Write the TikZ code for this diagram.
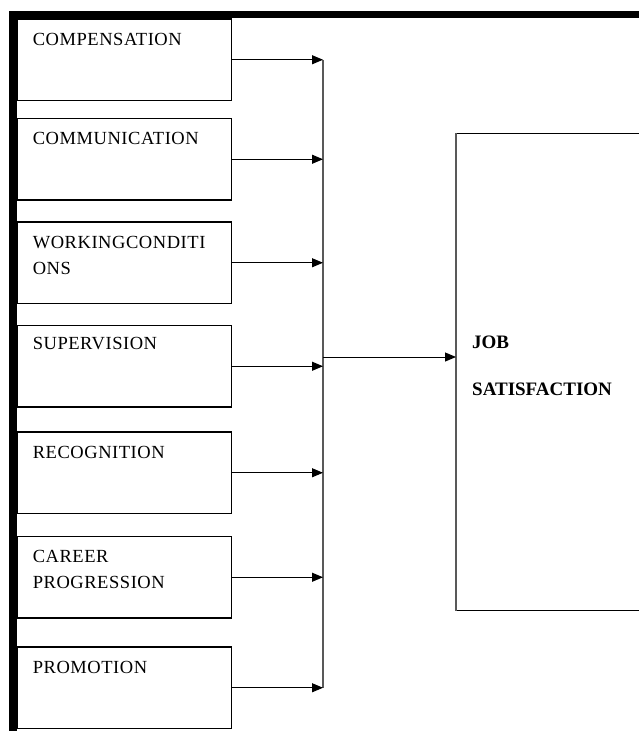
\documentclass[tikz,border=0pt]{standalone}
\usepackage{fontspec}
\setmainfont{Liberation Serif}
\usepackage{tikz}
\usetikzlibrary{arrows.meta}
\usetikzlibrary{positioning}
\tikzstyle{factor} = [rectangle, draw, line width=1.3pt,
    minimum width=214pt, minimum height=81.5pt, inner sep=0pt, outer sep=0pt]
\tikzstyle{ftext} = [inner sep=0pt, align=left,
    font=\fontsize{18.5}{26}\selectfont\addfontfeatures{LetterSpace=3}]
\tikzstyle{result} = [rectangle, draw, line width=1.4pt, anchor=north west,
    minimum width=220pt, minimum height=477pt, inner sep=0pt]
\tikzstyle{rtext} = [inner sep=0pt, align=left,
    font=\fontsize{19}{23}\selectfont\bfseries]
\tikzstyle{line} = [draw, line width=1pt, -{Triangle[length=11pt,width=9pt]}]
\tikzstyle{busline} = [draw, line width=1.3pt, black!65]

\begin{document}
\begin{tikzpicture}[x=1pt, y=1pt, node distance=22pt]
  \clip (0,0) rectangle (639,-731);
  % Frame
  \fill (9,-11) rectangle (645,-18);
  \fill (9,-11) rectangle (17,-735);
  % Place factor boxes
  \node [factor, anchor=north west] (comp) at (17.6,-19) {};
  \node [factor, below=18pt of comp] (comm) {};
  \node [factor, below=of comm] (work) {};
  \node [factor, below=of work] (sup) {};
  \node [factor, below=25pt of sup] (rec) {};
  \node [factor, below=23pt of rec] (car) {};
  \node [factor, below=29pt of car] (prom) {};
  % Box texts
  \node [ftext, below right=14pt and 15pt of comp.north west] (compt) {COMPENSATION};
  \node [ftext, below right=14pt and 15pt of comm.north west] (commt) {COMMUNICATION};
  \node [ftext, below right=14pt and 15pt of work.north west] (workt) {WORKINGCONDITI\\ONS};
  \node [ftext, below right=12pt and 15pt of sup.north west] (supt) {SUPERVISION};
  \node [ftext, below right=14pt and 15pt of rec.north west] (rect) {RECOGNITION};
  \node [ftext, below right=14pt and 15pt of car.north west] (cart) {CAREER\\PROGRESSION};
  \node [ftext, below right=14pt and 15pt of prom.north west] (promt) {PROMOTION};
  % Job satisfaction
  \node [result] (job) at (456,-133) {};
  \draw [black!65, line width=1.4pt] (job.north west) -- (job.south west);
  \node [rtext, right=16pt of job.west, yshift=6pt] (jobt) {JOB\\[24pt]SATISFACTION};
  % Draw edges
  \coordinate (bus) at (323,-357);
  \path [busline] (comp.east -| bus) -- (prom.east -| bus);
  \path [line] (comp.east) -- (comp.east -| bus);
  \path [line] (comm.east) -- (comm.east -| bus);
  \path [line] (work.east) -- (work.east -| bus);
  \path [line] (sup.east) -- (sup.east -| bus);
  \path [line] (rec.east) -- (rec.east -| bus);
  \path [line] (car.east) -- (car.east -| bus);
  \path [line] (prom.east) -- (prom.east -| bus);
  \path [line] (bus) -- (bus -| job.west);
\end{tikzpicture}
\end{document}
